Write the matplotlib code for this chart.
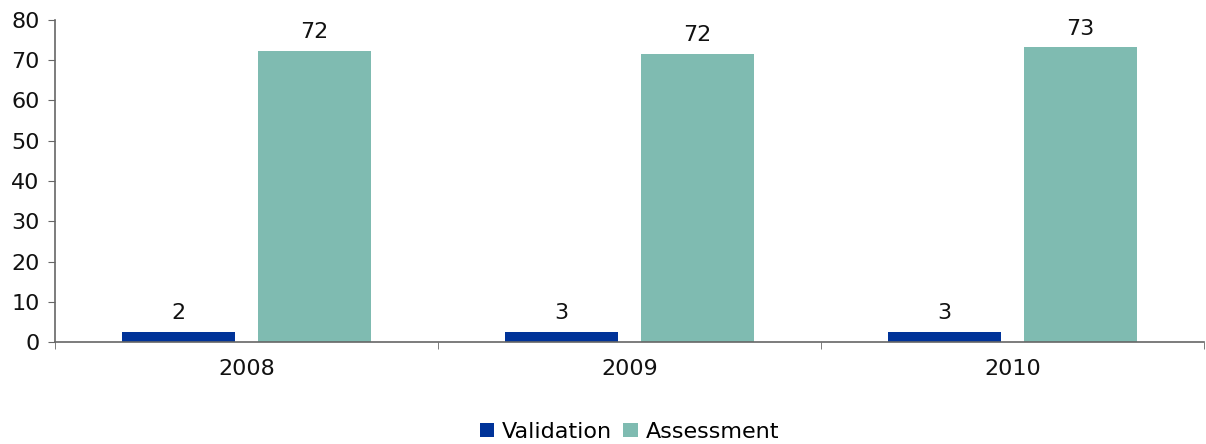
import numpy as np
import matplotlib.pyplot as plt

# --- data ---
years = ['2008', '2009', '2010']
validation = [2.4, 2.6, 2.6]
assessment = [72.3, 71.5, 73.2]
val_labels = ['2', '3', '3']
ass_labels = ['72', '72', '73']

col_val = '#003399'
col_ass = '#7fbbb1'

plt.rcParams['font.family'] = ['DejaVu Sans']
fs = 16

fig = plt.figure(figsize=(12.06, 4.44), dpi=100)
ax = fig.add_axes([55 / 1206, 102 / 444, 1149 / 1206, 322 / 444])

x = np.arange(len(years))
w = 0.295
off = 0.1775
b1 = ax.bar(x - off, validation, w, color=col_val, label='Validation')
b2 = ax.bar(x + off, assessment, w, color=col_ass, label='Assessment')

for bars, labs in [(b1, val_labels), (b2, ass_labels)]:
    for rect, lab in zip(bars, labs):
        ax.text(rect.get_x() + rect.get_width() / 2, rect.get_height() + 2.2, lab,
                ha='center', va='bottom', fontsize=fs, color='#111111')

ax.set_xlim(-0.5, len(years) - 0.5)
ax.set_ylim(0, 80)
ax.set_yticks(range(0, 81, 10))
ax.tick_params(axis='y', labelsize=fs, length=5, color='#666666', pad=6, labelcolor='#111111')

# category labels centred, tick marks at the boundaries
ax.set_xticks(x)
ax.set_xticklabels(years, fontsize=fs, color='#111111')
ax.tick_params(axis='x', length=0, pad=12)
ax.set_xticks(np.arange(len(years) + 1) - 0.5, minor=True)
ax.tick_params(axis='x', which='minor', length=5, color='#666666')

for s in ['top', 'right']:
    ax.spines[s].set_visible(False)
for s in ['left', 'bottom']:
    ax.spines[s].set_color('#666666')
    ax.spines[s].set_linewidth(1.2)

fig.legend(loc='lower center', bbox_to_anchor=(0.522, -0.04), ncol=2, frameon=False,
           fontsize=fs, handlelength=0.65, handleheight=0.65, handletextpad=0.35,
           columnspacing=0.5)

fig.savefig('out.png', dpi=100)
